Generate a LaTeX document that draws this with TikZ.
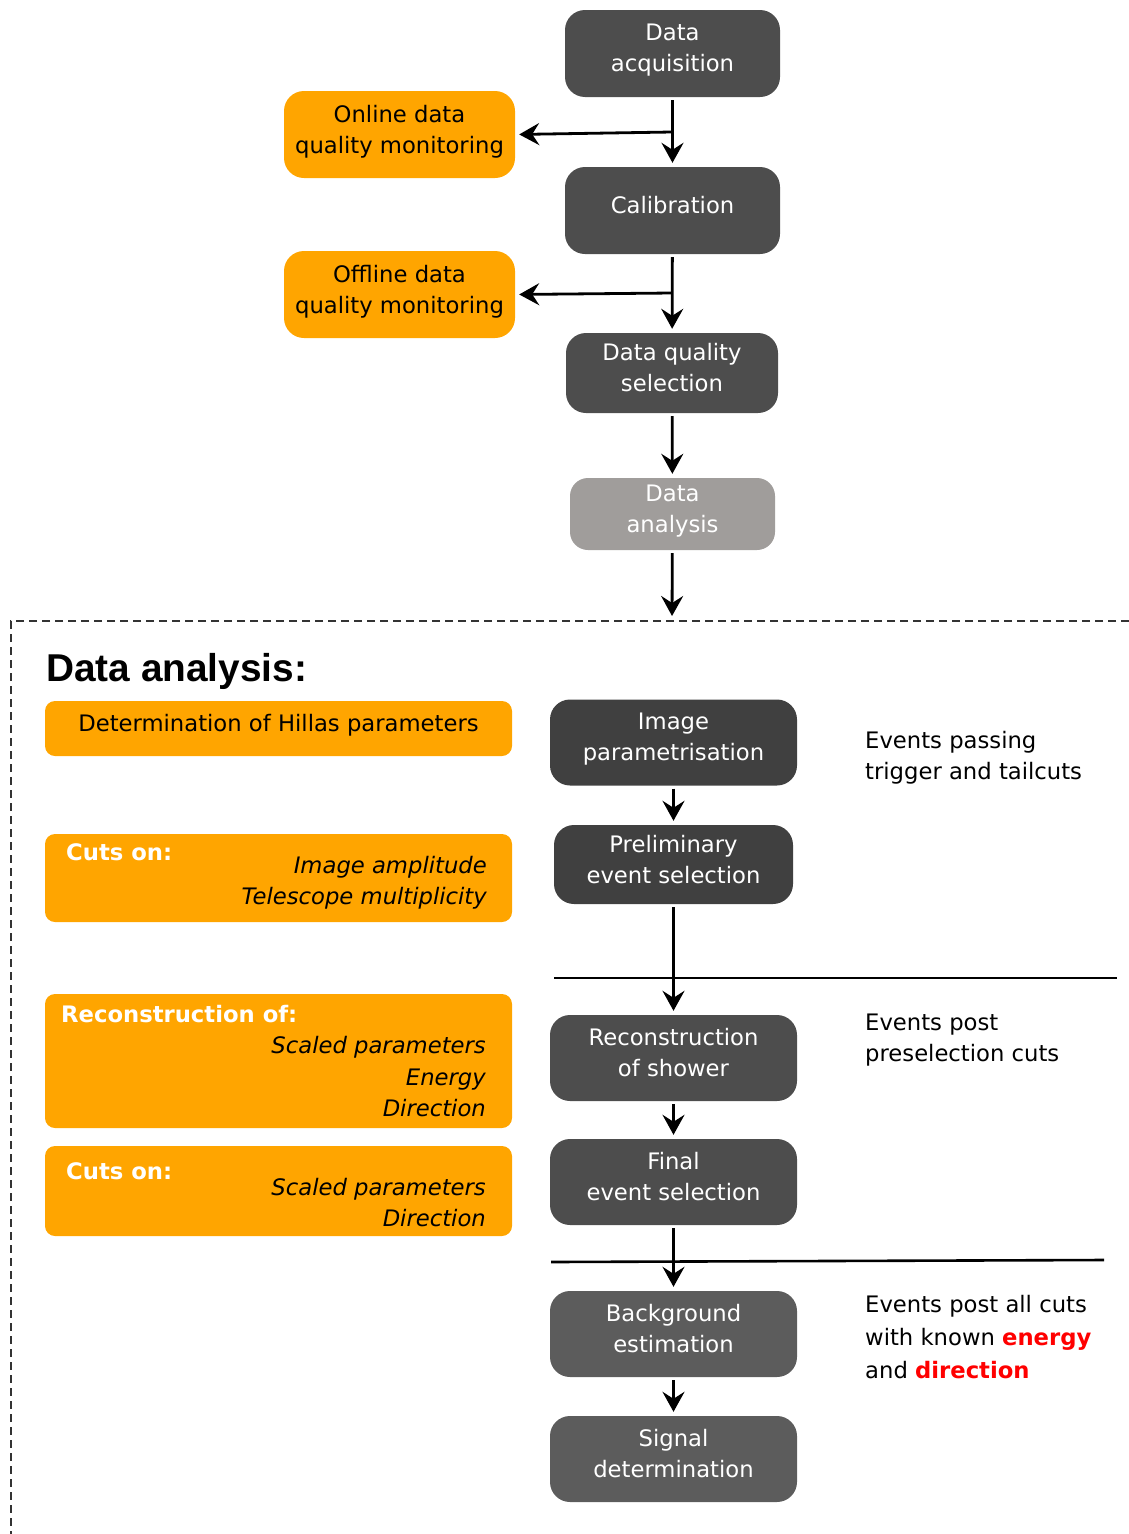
\documentclass[tikz,border=0pt]{standalone}
\usepackage{fontspec}
\setmainfont{DejaVu Sans}
\newfontfamily\titlefont{Liberation Sans}
\usetikzlibrary{arrows.meta,positioning}
\definecolor{stepdark}{HTML}{4D4D4D}
\definecolor{stepdarker}{HTML}{404040}
\definecolor{steplight}{HTML}{5C5C5C}
\definecolor{stepgrey}{HTML}{A09D9B}
\definecolor{dqorange}{HTML}{FFA500}
\definecolor{hilite}{HTML}{FF0000}
\definecolor{framegray}{HTML}{333333}
\newcommand\flowfont{\fontsize{22.7}{31}\selectfont}
\tikzset{
  flowbox/.style={fill=stepdark, text=white, rounded corners=20pt, align=center, inner sep=0pt,
    minimum width=247pt, minimum height=86pt, text depth=11pt, font=\flowfont},
  topbox/.style={flowbox, minimum width=215pt, minimum height=87pt},
  dqbox/.style={flowbox, fill=dqorange, text=black, minimum width=231pt, minimum height=87pt},
  notebox/.style={fill=dqorange, rounded corners=10pt, minimum width=467pt, inner sep=0pt},
  headtext/.style={text=white, font=\flowfont\bfseries, inner sep=0pt, anchor=base west},
  itemtext/.style={font=\flowfont\itshape, inner sep=0pt, anchor=base east},
  sidetext/.style={font=\flowfont, inner sep=0pt, anchor=base west},
  flow/.style={-{Stealth[length=20pt,width=22pt,inset=7pt]}, line width=2.8pt, shorten <=3pt, shorten >=4pt},
  sepline/.style={line width=2.6pt},
  analysisframe/.style={framegray, line width=2.8pt, dash pattern=on 8pt off 5pt}
}

\begin{document}
\begin{tikzpicture}[x=1pt,y=-1pt]
  \useasboundingbox (0,0) rectangle (1129,1534);
  % data taking chain
  \node[topbox] (acq) at (672.5,53.5) {Data\\acquisition};
  \node[topbox] (calib) at (672.5,210.5) {Calibration};
  \node[topbox, minimum width=212pt, minimum height=80pt] (dqsel) at (672,373) {Data quality\\selection};
  \node[topbox, fill=stepgrey, rounded corners=18pt, minimum width=205pt, minimum height=72pt] (ana) at (672.5,514) {Data\\analysis};
  \node[dqbox] (online) at (399.5,134.5) {Online data\\quality monitoring};
  \node[dqbox] (offline) at (399.5,294.5) {Offline data\\quality monitoring};
  \coordinate (branchA) at (672,132);
  \coordinate (branchB) at (672,293);
  \coordinate (framein) at (672,620);
  \draw[flow] (acq) -- (calib);
  \draw[flow] (calib) -- (dqsel);
  \draw[flow] (dqsel) -- (ana);
  \draw[flow] (ana) -- (framein);
  \draw[flow, shorten <=0pt] (branchA) -- (online.east);
  \draw[flow, shorten <=0pt] (branchB) -- (offline.east);

  % analysis part
  \draw[analysisframe] (1129,621) -- (11,621) -- (11,1534);
  \node[anchor=base west, inner sep=0pt, font=\titlefont\bfseries\fontsize{38.8}{40}\selectfont] (title) at (46,681) {Data analysis:};

  \node[flowbox, fill=stepdarker] (imgpar) at (673.5,742.5) {Image\\parametrisation};
  \node[flowbox, fill=stepdarker, minimum width=239pt, minimum height=79pt] (prelim) at (673.5,864.5) {Preliminary\\event selection};
  \node[flowbox] (recon) at (673.5,1058) {Reconstruction\\of shower};
  \node[flowbox] (final) at (673.5,1182) {Final\\event selection};
  \node[flowbox, fill=steplight] (bkg) at (673.5,1334) {Background\\estimation};
  \node[flowbox, fill=steplight] (signal) at (673.5,1459) {Signal\\determination};
  \draw[flow] (imgpar) -- (prelim);
  \draw[flow] (prelim) -- (recon);
  \draw[flow] (recon) -- (final);
  \draw[flow] (final) -- (bkg);
  \draw[flow] (bkg) -- (signal);
  \draw[sepline] (554,978) -- (1117,978);
  \draw[sepline] (551,1262) -- (1104,1260);

  \node[notebox, minimum height=55pt, text depth=11pt, font=\flowfont] (hillas) at (278.5,728.5) {Determination of Hillas parameters};
  \node[notebox, minimum height=88pt] (cutsA) at (278.5,878) {};
  \node[headtext] (cutsA-head) at (66,860.5) {Cuts on:};
  \foreach \txt/\yy [count=\i] in {Image amplitude/873.5, Telescope multiplicity/904.5}
    \node[itemtext] (cutsA-\i) at (487,\yy) {\txt};
  \node[notebox, minimum height=134pt] (reco) at (278.5,1061) {};
  \node[headtext] (reco-head) at (61,1022.5) {Reconstruction of:};
  \foreach \txt/\yy [count=\i] in {Scaled parameters/1053.5, Energy/1085.5, Direction/1116.5}
    \node[itemtext] (reco-\i) at (486,\yy) {\txt};
  \node[notebox, minimum height=90pt] (cutsB) at (278.5,1191) {};
  \node[headtext] (cutsB-head) at (66,1179.5) {Cuts on:};
  \foreach \txt/\yy [count=\i] in {Scaled parameters/1195.5, Direction/1226.5}
    \node[itemtext] (cutsB-\i) at (486,\yy) {\txt};

  % event classes
  \node[sidetext] (passA) at (865,748.5) {Events passing};
  \node[sidetext] (passB) at (865,779.5) {trigger and tailcuts};
  \node[sidetext] (preA) at (865,1030.5) {Events post};
  \node[sidetext] (preB) at (865,1061.5) {preselection cuts};
  \node[sidetext] (allA) at (865,1312.5) {Events post all cuts};
  \node[sidetext] (allB) at (865,1345.5) {with known {\bfseries\color{hilite}energy}};
  \node[sidetext] (allC) at (865,1378.5) {and {\bfseries\color{hilite}direction}};
\end{tikzpicture}
\end{document}
